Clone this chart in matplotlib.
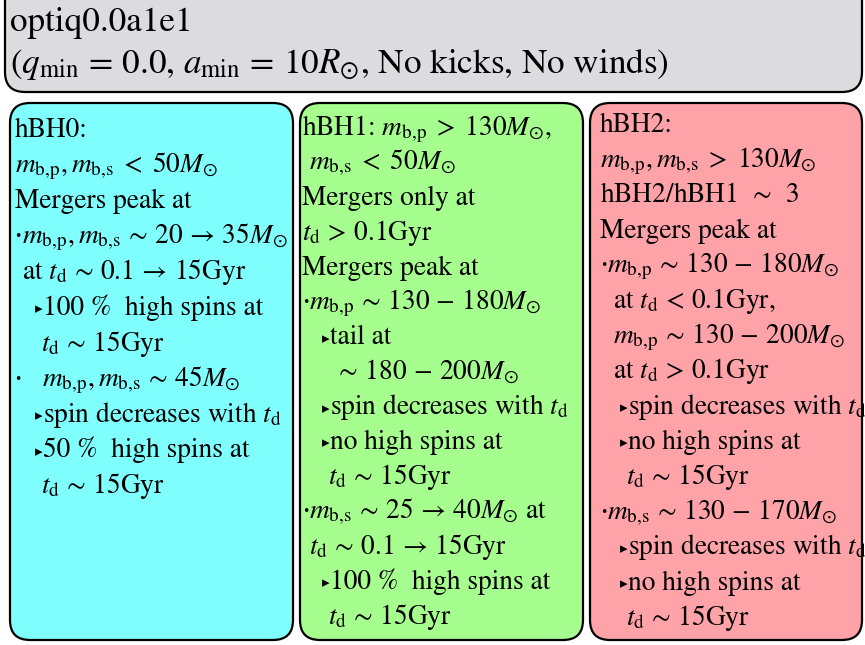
import matplotlib
matplotlib.use("Agg")
import matplotlib.pyplot as plt
from matplotlib.patches import FancyBboxPatch

plt.rcParams['mathtext.fontset'] = 'stix'
plt.rcParams['font.family'] = ['STIXGeneral', 'DejaVu Sans']

header_lines = [
    "optiq0.0a1e1",
    r"($q_{\rm min}\,=\,0.0$, $a_{\rm min}\,=\,10R_{\odot}$, No kicks, No winds)",
]

hbh0_lines = [
    "hBH0:",
    r"$m_{\rm b,\!p}, m_{\rm b,\!s}\;<\;50M_{\odot}$",
    "Mergers peak at",
    r"•$m_{\rm b,\!p}, m_{\rm b,\!s}\,\sim\,20\,\rightarrow\,35M_{\odot}$",
    r" at $t_{\rm d}\,\sim\,0.1\,\rightarrow\,15$Gyr",
    "   ‣100 %  high spins at",
    r"    $t_{\rm d}\,\sim\,15$Gyr",
    r"•   $m_{\rm b,\!p}, m_{\rm b,\!s}\,\sim\,45M_{\odot}$",
    r"   ‣spin decreases with $t_{\rm d}$",
    "   ‣50 %  high spins at",
    r"    $t_{\rm d}\,\sim\,15$Gyr",
]

hbh1_lines = [
    r"hBH1: $m_{\rm b,\!p}\;>\;130M_{\odot}$,",
    r" $m_{\rm b,\!s}\;<\;50M_{\odot}$",
    "Mergers only at",
    r"$t_{\rm d}\,>\,0.1$Gyr",
    "Mergers peak at",
    r"•$m_{\rm b,\!p}\,\sim\,130\,-\,180M_{\odot}$",
    "   ‣tail at",
    r"     $\sim\,180\,-\,200M_{\odot}$",
    r"   ‣spin decreases with $t_{\rm d}$",
    "   ‣no high spins at",
    r"    $t_{\rm d}\,\sim\,15$Gyr",
    r"•$m_{\rm b,\!s}\,\sim\,25\,\rightarrow\,40M_{\odot}$ at",
    r" $t_{\rm d}\,\sim\,0.1\,\rightarrow\,15$Gyr",
    "   ‣100 %  high spins at",
    r"    $t_{\rm d}\,\sim\,15$Gyr",
]

hbh2_lines = [
    "hBH2:",
    r"$m_{\rm b,\!p}, m_{\rm b,\!s}\;>\;130M_{\odot}$",
    r"hBH2/hBH1 $\,\sim\,$ 3",
    "Mergers peak at",
    r"•$m_{\rm b,\!p}\,\sim\,130\,-\,180M_{\odot}$",
    r"  at $t_{\rm d}\,<\,0.1$Gyr,",
    r"  $m_{\rm b,\!p}\,\sim\,130\,-\,200M_{\odot}$",
    r"  at $t_{\rm d}\,>\,0.1$Gyr",
    r"   ‣spin decreases with $t_{\rm d}$",
    "   ‣no high spins at",
    r"    $t_{\rm d}\,\sim\,15$Gyr",
    r"•$m_{\rm b,\!s}\,\sim\,130\,-\,170M_{\odot}$",
    r"   ‣spin decreases with $t_{\rm d}$",
    "   ‣no high spins at",
    r"    $t_{\rm d}\,\sim\,15$Gyr",
]

W, H = 865, 645
FS = 19.7
SP = 6.6      # width of one leading space in px
fig = plt.figure(figsize=(W / 100, H / 100), dpi=100)
ax = fig.add_axes([0, 0, 1, 1])
ax.set_xlim(0, W)
ax.set_ylim(H, 0)
ax.axis('off')


def rbox(x0, y0, x1, y1, fc):
    p = FancyBboxPatch((x0, y0), x1 - x0, y1 - y0,
                       boxstyle="round,pad=0,rounding_size=20",
                       fc=fc, ec='black', lw=1.6, mutation_aspect=1)
    ax.add_patch(p)


def draw_line(x, y, s):
    n = len(s) - len(s.lstrip(' '))
    s = s.lstrip(' ')
    xx = x + n * SP
    if s.startswith('‣'):
        xx += 8
        ax.text(xx, y - 6, '▸', fontsize=11, family='DejaVu Sans',
                va='center', ha='right')
        s = s[1:]
    elif s.startswith('•'):
        xx += 7
        ax.text(xx, y - 7, '•', fontsize=9, family='DejaVu Sans',
                va='center', ha='right')
        s = s[1:]
    n = len(s) - len(s.lstrip(' '))
    s = s.lstrip(' ')
    xx += n * SP
    ax.text(xx, y, s, fontsize=FS, va='baseline', ha='left', clip_on=False)


rbox(5, -40, 862, 92, '#dcdcdf')
rbox(10, 103, 293, 640, '#80ffff')
rbox(300, 103, 583, 640, '#a6fe8f')
rbox(590, 103, 862, 640, '#ffa3a9')

for i, s in enumerate(header_lines):
    ax.text(10, 31 + i * 42, s, fontsize=25.3, va='baseline', ha='left')

for x, y0, dy, lines in [(15, 137, 35.6, hbh0_lines),
                         (302, 135, 34.9, hbh1_lines),
                         (600, 132, 35.2, hbh2_lines)]:
    for i, s in enumerate(lines):
        draw_line(x, y0 + i * dy, s)

fig.savefig("out.png", dpi=100)
